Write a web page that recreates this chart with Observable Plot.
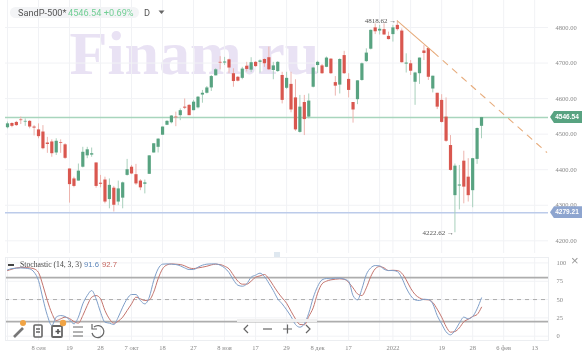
<!DOCTYPE html>
<html><head><meta charset="utf-8">
<script src="https://cdn.jsdelivr.net/npm/d3@7"></script>
<script src="https://cdn.jsdelivr.net/npm/@observablehq/plot@0.6"></script>
<style>
html,body{margin:0;padding:0;background:#fff;}
#wrap{position:relative;width:586px;height:356px;overflow:hidden;background:#fff;font-family:Roboto,sans-serif;filter:blur(0.3px);}
#wrap>svg,#wrap>div{position:absolute;}
#wrap svg.plot,#wrap>figure{position:absolute;margin:0;}
.flag{left:550px;width:32px;height:12px;line-height:12px;color:#fff;font:bold 6.5px/12px "Liberation Sans",sans-serif;text-align:center;padding-left:2px;box-sizing:border-box;clip-path:polygon(0 50%,4px 0,100% 0,100% 100%,4px 100%);}
</style></head><body><div id="wrap"></div>
<script>
const opens=[4518,4530,4533,4540,4534,4536,4520,4512,4506,4475,4478,4447,4476,4470,4402,4374,4368,4407,4439,4441,4419,4362,4371,4316,4348,4309,4320,4384,4407,4386,4368,4359,4387,4447,4463,4497,4525,4532,4548,4552,4576,4581,4566,4574,4610,4615,4630,4664,4702,4700,4709,4670,4660,4657,4691,4680,4702,4702,4710,4715,4679,4676,4665,4629,4640,4602,4505,4589,4548,4632,4693,4692,4688,4711,4645,4638,4721,4654,4589,4597,4651,4704,4739,4799,4790,4794,4775,4780,4806,4790,4697,4698,4646,4670,4734,4741,4627,4615,4595,4548,4468,4327,4354,4424,4379,4341,4429,4522];
const highs=[4534,4532,4536,4548,4543,4538,4524,4529,4524,4491,4484,4487,4484,4473,4402,4379,4416,4463,4463,4461,4419,4384,4379,4374,4353,4368,4365,4429,4412,4415,4372,4371,4439,4473,4487,4520,4538,4552,4562,4571,4599,4583,4595,4606,4623,4634,4665,4684,4718,4716,4711,4684,4662,4688,4702,4715,4704,4709,4712,4745,4702,4704,4674,4674,4674,4653,4609,4609,4613,4688,4705,4696,4717,4712,4662,4712,4733,4670,4589,4650,4700,4740,4793,4810,4806,4810,4787,4806,4818.62,4796,4726,4707,4674,4714,4749,4742,4663,4615,4611,4602,4496,4416,4412,4452,4431,4432,4517,4547];
const lows=[4515,4518,4522,4527,4522,4515,4495,4487,4456,4446,4435,4440,4446,4429,4306,4349,4368,4405,4431,4435,4348,4349,4304,4290,4281,4299,4290,4382,4386,4356,4341,4332,4387,4447,4447,4497,4524,4529,4521,4538,4569,4552,4566,4571,4587,4613,4620,4664,4681,4693,4670,4632,4647,4653,4675,4673,4688,4672,4688,4679,4653,4674,4585,4626,4560,4508,4503,4496,4543,4630,4670,4668,4687,4668,4607,4613,4668,4602,4531,4583,4649,4702,4737,4780,4779,4778,4765,4759,4790,4700,4672,4665,4581,4640,4707,4651,4616,4569,4531,4477,4396,4222.62,4287,4304,4309,4293,4415,4487];
const closes=[4529,4522,4524,4538,4536,4520,4517,4493,4459,4471,4445,4480,4474,4432,4358,4353,4396,4449,4456,4445,4353,4359,4309,4356,4300,4346,4363,4400,4388,4360,4349,4363,4439,4473,4486,4520,4536,4551,4546,4566,4573,4552,4590,4604,4615,4630,4662,4681,4700,4703,4686,4648,4649,4683,4682,4701,4690,4706,4698,4681,4692,4702,4595,4657,4568,4512,4576,4541,4593,4686,4702,4670,4714,4670,4635,4710,4670,4623,4568,4650,4698,4728,4792,4788,4795,4779,4766,4799,4794,4701,4700,4677,4672,4714,4727,4660,4663,4576,4533,4480,4398,4410,4357,4351,4327,4431,4516,4546.54];
const stochK=[90.5,92.3,92.8,93.2,92.8,91.9,87.4,76,51,28.2,14.6,26,28.2,26.9,22.3,16.9,26,44.1,55.5,62.3,51,32.8,19.1,17.8,16,26,39.6,51,56.9,56.9,48.7,44.1,53.2,76,91.9,98.3,98.7,98.3,97.8,96,93.2,91,91,94.2,96.9,98.3,98.7,98.7,96.9,93.2,86.9,76.9,69.6,68.2,71.4,80.5,83.3,86,81.4,72.3,62.3,51,44.1,36,26.9,16,12.3,16.9,31.4,52.3,67.8,76.9,78.7,78.3,79.2,79.2,77.8,75.1,55.5,49.6,64.6,84.2,93.2,96.4,96,91.4,89.6,89.6,88.2,79.6,66,55.5,49.6,48.7,50.5,50,44.1,28.2,16.9,6,1.9,7.8,17.8,26,23.7,26.9,37.3,52.3];
const stochD=[89.6,91.4,93.2,93.7,93.7,93.2,91.9,86.9,69.2,48.7,31.4,21.4,23.7,26,24.1,20,17.8,28.2,41.9,53.2,55.5,51,35,23.7,17.8,20.5,26,35,44.1,53.2,51,48.7,49.6,60.1,78.3,91.9,97.3,98.7,98.3,97.8,96,93.2,92.3,93.2,94.2,95.5,97.3,98.3,97.8,95.5,91.9,83.3,75.1,71,71,75.1,80.5,82.3,84.2,78.3,69.2,60.1,52.3,45,34.1,23.7,16,15.5,26.9,38.7,58.7,71.4,75.1,76.9,77.8,78.3,77.8,73.2,66,57.8,55.5,66,81.4,91.9,95.1,93.2,89.6,90,89.6,86,76.9,65.5,56.9,52.3,50,49.6,46,36.9,26,13.2,5.5,6.4,11.4,19.6,23.2,26.9,29.6,39.6];
const priceTicks=[4200,4300,4400,4500,4600,4700,4800];
const stochTicks=[0,25,50,75,100];
const gridIdx=[0,7,14,21,28,35,42,49,56,63,70,77,84,87,91,98,105,112,119];
const labelIdx=[7,14,21,28,35,42,49,56,63,70,77,87,98,105,112,119];
const labelText=["8 сен","19","28","7 окт","18","27","8 ноя","17","29","8 дек","17","2022","19","28","6 фев","13"];
const lastPrice=4546.54, markPrice=4279.21, maxHigh=4818.62, minLow=4222.62;
const trendSolid=[[88,4818.62],[96.2,4730]];
const trendDash=[[96.2,4730],[121.7,4449]];

const rows=opens.map((o,i)=>({i,o,h:highs[i],l:lows[i],c:closes[i],up:closes[i]>=o}));
const idx=stochK.map((_,i)=>i);
const xDomain=[-0.4515,122.12];
const GREEN="#58a381",RED="#d9574f",GW="#a9d0bc",RW="#edb4ae",GRID="#f1f2f5";
const serif='"Liberation Serif",serif';
const wrap=document.getElementById("wrap");

const price=Plot.plot({
  width:586,height:253,marginLeft:5,marginRight:38,marginTop:0,marginBottom:0,
  style:{background:"transparent",fontFamily:serif},
  x:{domain:xDomain,axis:null},
  y:{domain:[4164.3,4875.95],axis:null},
  marks:[
    Plot.text(["Finam.ru"],{x:()=>14,y:()=>4669,text:d=>d,textAnchor:"start",lineAnchor:"bottom",fontSize:62,fontWeight:700,fontFamily:serif,fill:"#e9e2f4"}),
    Plot.ruleX(gridIdx,{stroke:GRID,strokeWidth:1}),
    Plot.ruleY(priceTicks,{stroke:GRID,strokeWidth:1}),
    Plot.ruleY([lastPrice],{stroke:"#a8d5bd",strokeWidth:1.5}),
    Plot.ruleY([markPrice],{stroke:"#bccbea",strokeWidth:1.5}),
    Plot.ruleX(rows,{x:"i",y1:"l",y2:"h",stroke:d=>d.up?GW:RW,strokeWidth:1}),
    Plot.ruleX(rows,{x:"i",y1:"o",y2:"c",stroke:d=>d.up?GREEN:RED,strokeWidth:3.2}),
    Plot.line(trendSolid,{x:d=>d[0],y:d=>d[1],stroke:"#e7ac7c",strokeWidth:1.1}),
    Plot.line(trendDash,{x:d=>d[0],y:d=>d[1],stroke:"#e7ac7c",strokeWidth:1.1,strokeDasharray:"6,6.5"}),
    Plot.text([[88,maxHigh,"4818.62 →"],[101,minLow,"4222.62 →"]],{x:d=>d[0],y:d=>d[1],text:d=>d[2],textAnchor:"end",dx:-1,fontSize:7,fill:"#555"}),
    Plot.axisY({anchor:"right",ticks:priceTicks,tickFormat:d3.format(".2f"),tickSize:0,tickPadding:7,fontSize:6.5,fill:"#888",label:null})
  ]
});
price.style.cssText+="position:absolute;left:0;top:0;";
wrap.appendChild(price);

const stoch=Plot.plot({
  width:586,height:99,marginLeft:5,marginRight:38,marginTop:0,marginBottom:16,
  style:{background:"transparent",fontFamily:serif},
  x:{domain:xDomain,axis:null},
  y:{domain:[-5.87,107.4],axis:null},
  marks:[
    Plot.ruleX(gridIdx,{stroke:GRID,strokeWidth:1}),
    Plot.ruleY(stochTicks,{stroke:GRID,strokeWidth:1}),
    Plot.ruleY([80,20],{stroke:"#adadad",strokeWidth:1.8}),
    Plot.ruleY([50],{stroke:"#adadad",strokeWidth:1,strokeDasharray:"4,4"}),
    Plot.line(idx,{x:d=>d,y:d=>stochD[d],stroke:"#c4746d",strokeWidth:1,curve:"monotone-x"}),
    Plot.line(idx,{x:d=>d,y:d=>stochK[d],stroke:"#7f9fc9",strokeWidth:1,curve:"monotone-x"}),
    Plot.frame({stroke:"#eceef1",strokeWidth:1}),
    Plot.axisY({anchor:"right",ticks:stochTicks,tickSize:0,tickPadding:8,fontSize:6.5,fill:"#888",label:null}),
    Plot.axisX({anchor:"bottom",ticks:labelIdx,tickFormat:d=>labelText[labelIdx.indexOf(d)],tickSize:0,tickPadding:5,fontSize:6.5,fill:"#888",label:null})
  ]
});
stoch.style.cssText+="position:absolute;left:0;top:257px;";
wrap.appendChild(stoch);

function flag(v,col){
  const d=document.createElement("div");d.className="flag";d.textContent=v.toFixed(2);
  d.style.background=col;d.style.top=(price.scale("y").apply(v)-6)+"px";wrap.appendChild(d);
}
flag(lastPrice,"#58a381");flag(markPrice,"#8ea5cf");

const overlay=document.createElement("div");
overlay.style.cssText="left:0;top:0;width:586px;height:356px;pointer-events:none;";
overlay.innerHTML=`
<div style="position:absolute;left:10px;top:7px;width:129px;height:11px;border-radius:6px;background:#f3f4f6"></div>
<div style="position:absolute;left:18px;top:6px;font:9.2px/13px Roboto,sans-serif;color:#555;white-space:nowrap">SandP-500*</div>
<div style="position:absolute;left:68px;top:6px;font:9.2px/13px Roboto,sans-serif;color:#72cf95;white-space:nowrap">4546.54 +0.69%</div>
<div style="position:absolute;left:144px;top:6px;font:9.2px/13px Roboto,sans-serif;color:#555">D</div>
<svg style="position:absolute;left:158px;top:10px" width="8" height="5"><path d="M0.5 0.5H6.5L3.5 4z" fill="#666"/></svg>
<div style="position:absolute;left:8px;top:264px;width:6px;height:2px;background:#444"></div>
<div style="position:absolute;left:20px;top:259px;font:7.7px/12px 'Liberation Serif',serif;color:#444;white-space:nowrap">Stochastic (14, 3, 3)</div>
<div style="position:absolute;left:84px;top:259px;font:7.7px/12px 'Liberation Sans',sans-serif;color:#5e86b9">91.6</div>
<div style="position:absolute;left:102px;top:259px;font:7.7px/12px 'Liberation Sans',sans-serif;color:#c5665f">92.7</div>
<div style="position:absolute;left:571px;top:254px;font:13px/13px 'Liberation Sans',sans-serif;color:#999">×</div>
<div style="position:absolute;left:274px;top:252px;width:6px;height:5px;background:#dfe8f0"></div>
<div style="position:absolute;left:237px;top:319px;width:80px;height:3px;background:#f0f0f0"></div>
<svg style="position:absolute;left:0;top:318px" width="110" height="22" fill="none" stroke="#666" stroke-width="1.6">
<path d="M14 19L23 10" stroke="#777" stroke-width="2.6"/><circle cx="23" cy="5" r="3" fill="#f0a445" stroke="none"/>
<rect x="34" y="7" width="8" height="12" rx="1"/><path d="M36 11H40M36 14H40"/>
<rect x="52" y="8" width="10" height="11" rx="1" stroke-width="1.8"/><circle cx="63" cy="5" r="3.2" fill="#f0a445" stroke="none"/>
<path d="M58 11V16M55.5 13.5H60.5" stroke="#555"/>
<path d="M73 9H83M73 14H83M73 18H83" stroke-width="1"/>
<path d="M94 9A6 6 0 1 1 92 15" stroke-width="1.2"/><path d="M92 6V11H97" stroke-width="1.2"/>
</svg>
<svg style="position:absolute;left:240px;top:322px" width="75" height="14" fill="none" stroke="#666" stroke-width="1.2">
<path d="M8 3L4 7L8 11"/><path d="M23 7H32"/><path d="M43 7H52M47.5 2.5V11.5"/><path d="M66 3L70 7L66 11"/>
</svg>`;
wrap.appendChild(overlay);
</script></body></html>
